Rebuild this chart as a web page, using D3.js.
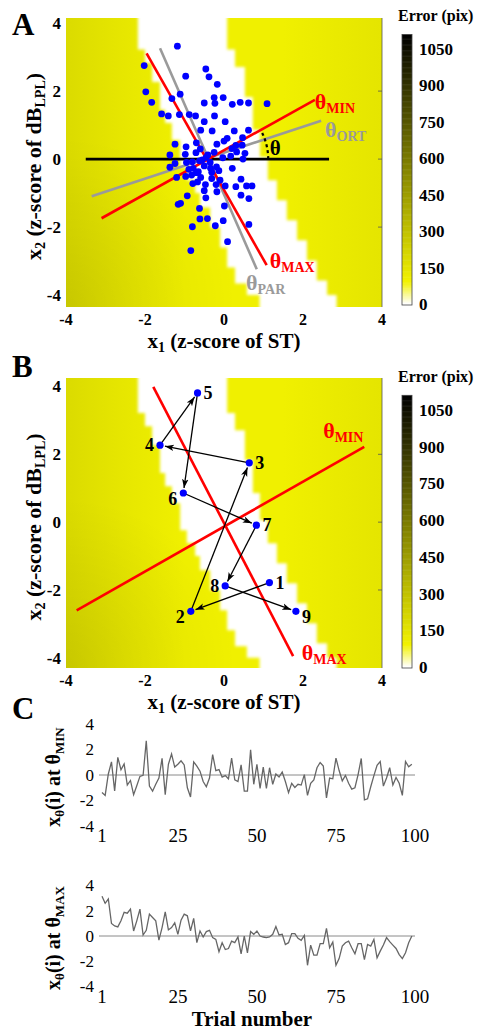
<!DOCTYPE html>
<html>
<head>
<meta charset="utf-8">
<script src="https://cdn.jsdelivr.net/npm/d3@7"></script>
<style>
  body { margin: 0; background: #fff; }
  svg { display: block; font-family: "Liberation Serif", "Times New Roman", serif; }
</style>
</head>
<body>
<div id="chart"></div>
<script>
// ---- panel A: scatter of (x1, x2) z-scores
const scatterX = [-1.18, -2.02, -0.97, -0.46, -0.38, -0.17, -1.98, -1.83, -1.32, -1.11, -0.50, -0.25, -0.02, -0.23, 0.21, 0.41, 0.62, 1.09,
  -1.58, -1.41, -1.13, -0.88, -0.72, -0.24, 0.03, -0.50, -0.59, -0.30, 0.26, 0.62, 0.08, 0.47, -0.18, 0.00, -0.70, -1.24, -0.96, 0.46,
  0.20, -1.37, -0.98, -0.71, -0.41, -0.25, -0.03, 0.17, 0.48, -0.62, -0.80, -0.95, -1.37, -0.50, -0.34, -0.19, -0.78, -0.89, -0.65,
  -0.31, -0.13, -1.20, -0.97, -0.82, -0.59, -0.31, -0.10, 0.21, 0.43, -0.47, -0.20, 0.03, 0.30, 0.57, 0.71, -0.50, -0.18, 0.43, -0.46,
  0.63, -0.93, -1.16, -1.10, -0.62, 0.01, -0.61, -0.42, -0.80, -0.22, -0.02, 0.63, 0.09, -0.84, -0.67, -0.79, -1.24, -0.55, -0.45,
  -0.60, -0.35, -0.70, 0.53, 0.32, 0.30];
const scatterY = [3.32, 2.75, 2.44, 2.65, 2.42, 2.20, 1.98, 1.67, 1.78, 1.91, 1.65, 1.81, 1.81, 1.64, 1.61, 1.67, 1.65, 1.63,
  1.33, 1.27, 1.31, 1.31, 1.27, 1.27, 1.10, 1.10, 0.85, 0.83, 0.83, 0.85, 0.61, 0.63, 0.44, 0.53, 0.48, 0.44, 0.36, 0.41,
  0.31, 0.12, 0.14, 0.19, 0.12, 0.20, 0.04, 0.09, 0.00, -0.05, -0.08, -0.10, -0.24, -0.20, -0.27, -0.23, -0.27, -0.30, -0.37,
  -0.39, -0.34, -0.54, -0.51, -0.47, -0.54, -0.57, -0.62, -0.27, -0.59, -0.75, -0.75, -0.79, -0.81, -0.79, -0.79, -0.93, -0.96, -1.06, -1.14,
  -1.16, -1.08, -1.33, -1.30, -1.45, -1.38, -1.76, -1.75, -1.99, -1.96, -1.81, -1.92, -2.43, -2.69, -0.67, -0.72, -0.13, -0.02, 0.05,
  0.30, -0.10, -0.40, 0.17, 0.21, 0.40];

// reference lines of panel A (endpoints in z-score units)
const linesA = [
  { name: 'ORT', x: [-3.35, 2.46], y: [-1.09, 1.13], color: '#9a9a9a' },
  { name: 'PAR', x: [-1.62, 0.83], y: [3.26, -3.24], color: '#9a9a9a' },
  { name: 'AXIS', x: [-3.50, 2.66], y: [0, 0], color: '#000000' },
  { name: 'MAX', x: [-1.96, 1.08], y: [3.11, -3.12], color: '#ff0000' },
  { name: 'MIN', x: [-3.10, 2.30], y: [-1.74, 1.74], color: '#ff0000' }
];
const labelsA = [
  { sub: 'MIN', x: 2.30, y: 1.47, color: '#ff0000' },
  { sub: 'ORT', x: 2.56, y: 0.65, color: '#9a9a9a' },
  { sub: 'MAX', x: 1.16, y: -3.20, color: '#ff0000' },
  { sub: 'PAR', x: 0.56, y: -3.85, color: '#9a9a9a' }
];

// ---- panel B: trial sequence
const trialIds = [1, 2, 3, 4, 5, 6, 7, 8, 9];
const trialX = [1.15, -0.84, 0.64, -1.62, -0.67, -1.03, 0.82, 0.03, 1.82];
const trialY = [-1.78, -2.63, 1.75, 2.27, 3.81, 0.86, -0.09, -1.88, -2.63];
const trialLabelSide = ['r', 'lb', 'r', 'l', 'r', 'lb', 'r', 'l', 'rb'];
const linesB = [
  { name: 'MAX', x: [-1.79, 1.75], y: [3.99, -3.95], color: '#ff0000' },
  { name: 'MIN', x: [-3.73, 3.55], y: [-2.60, 2.22], color: '#ff0000' }
];
const labelsB = [
  { sub: 'MIN', x: 2.51, y: 2.48, color: '#ff0000' },
  { sub: 'MAX', x: 1.97, y: -4.07, color: '#ff0000' }
];

// ---- error map: zero-error valley (step edges, z-score units) and error level across x1
const bandLeftY = [4.6, 3.22, 2.83, 2.27, 1.45, 1.06, 0.56, -0.24, -0.62, -1.00, -1.42, -2.01, -2.60, -3.19, -3.66, -4.00];
const bandLeftX = [-2.18, -2.00, -1.82, -1.62, -1.49, -1.32, -1.11, -0.94, -0.73, -0.61, -0.35, -0.10, 0.08, 0.28, 0.58, 0.90];
const bandRightY = [4.6, 3.22, 2.71, 1.83, 0.86, 0.06, -0.62, -1.21, -1.80, -2.39, -2.98, -3.57, -4.00];
const bandRightX = [0.08, 0.28, 0.53, 0.73, 0.91, 1.11, 1.34, 1.59, 1.85, 2.10, 2.35, 2.61, 2.85];
const errAtX = [-4, -2.5, -1, 1.5, 4];
const errLevel = [185, 135, 100, 100, 145];

const cbTicks = [0, 150, 300, 450, 600, 750, 900, 1050];
const cbMax = 1110;

// ---- panel C: projections per trial
const projMin = [-1.38, -1.6, 0.08, 1.03, -1.25, 1.38, 0.41, 0.87, -0.79, -0.43, -1.54, -0.84, -0.11, -0.03, 2.68, -0.87, -1.27,
  -0.73, -0.24, 1.3, -1.54, 0.84, 1.65, 0.62, 0.84, 1.11, 0.79, -1.0, -1.73, 1.03, 0.7, 0.3, -0.51, -0.92, -0.24, 1.6, 0.35,
  0.43, -0.16, -0.05, -0.3, 1.33, -0.38, -0.51, 0.79, -1.27, -1.27, 1.98, -0.73, 0.84, -1.06, 0.62, -1.06, 0.57, -0.73, 0.08,
  -0.16, 0.24, -0.51, -1.38, -0.65, -0.98, -0.73, -0.79, 0.03, -1.6, -0.65, -0.38, 0.57, 0.98, 0.7, -1.79, -0.24, -0.3, 1.33,
  0.35, -0.46, -0.03, -0.65, -1.11, -1.0, 0.03, 1.3, -1.95, -1.87, -0.92, -0.05, 0.76, 1.06, -0.87, -0.24, 0.57, -0.79, -0.19,
  -0.65, -1.6, 1.06, 0.65, 0.84];
const projMax = [3.15, 2.59, 2.93, 0.99, 0.8, 0.72, 1.2, 1.87, 1.81, 2.13, 0.4, 1.2, 2.13, 0.08, 0.45, 1.73, 1.47, 1.2, -0.32,
  0.67, 1.92, 0.48, 0.67, 1.04, 0.13, 1.25, 1.73, 1.6, 0.4, 1.39, -0.53, 0.4, -0.08, 0.35, 0.45, -0.13, -0.27, -1.25, -0.53,
  -1.07, -0.99, -0.4, -0.53, -0.08, -1.41, 0, -1.33, 0.35, 0.13, 0.4, 0, -0.08, -0.13, -0.08, 0.13, 0.75, 0.08, 0.13, -0.67,
  -0.53, 0.19, 0.19, -0.19, -0.35, 0.05, -2.32, -0.72, -1.52, -1.52, -0.61, -0.61, 0.61, -0.93, -0.48, -2.32, -1.79, -0.8,
  -0.53, -0.4, -0.93, -1.41, -0.61, -0.61, -1.87, -0.67, -0.8, -0.27, -1.73, -1.2, -0.72, -0.13, -0.45, -0.72, -0.99, -1.47,
  -1.79, -1.33, -0.53, 0];
const trialTicks = [1, 25, 50, 75, 100];
const projTicks = [4, 2, 0, -2, -4];

const width = 497, height = 1032;
const svg = d3.select('#chart').append('svg').attr('width', width).attr('height', height);
const defs = svg.append('defs');

const color = d3.scaleLinear().domain([0, 90, cbMax]).range(['#ffffff', '#f2f200', '#000000']);

defs.append('filter').attr('id', 'soft')
  .append('feGaussianBlur').attr('stdDeviation', 1.6);

defs.append('marker')
  .attr('id', 'arrow')
  .attr('viewBox', '0 -5 10 10')
  .attr('refX', 10).attr('refY', 0)
  .attr('markerWidth', 9).attr('markerHeight', 9)
  .attr('markerUnits', 'userSpaceOnUse')
  .attr('orient', 'auto')
  .append('path').attr('d', 'M0,-3.6L10,0L0,3.6L2.5,0Z').attr('fill', '#000');

function sub(t, main, s, size, dy) {
  t.append('tspan').text(main);
  t.append('tspan').attr('font-size', size).attr('dy', dy).text(s);
}

function thetaLabel(g, px, py, s, fill) {
  const t = g.append('text').attr('x', px).attr('y', py)
    .attr('fill', fill).attr('font-weight', 'bold').attr('font-size', 22);
  t.append('tspan').text('θ');
  t.append('tspan').attr('font-size', 14).attr('dy', 4).text(s);
}

function bandPath(x, y) {
  const pts = [];
  const yBot = -4.6;
  bandLeftY.forEach((yy, i) => {
    const y1 = i < bandLeftY.length - 1 ? bandLeftY[i + 1] : yBot;
    pts.push([x(bandLeftX[i]), y(yy)], [x(bandLeftX[i]), y(y1)]);
  });
  for (let i = bandRightY.length - 1; i >= 0; i--) {
    const y1 = i < bandRightY.length - 1 ? bandRightY[i + 1] : yBot;
    pts.push([x(bandRightX[i]), y(y1)], [x(bandRightX[i]), y(bandRightY[i])]);
  }
  return d3.line()(pts) + 'Z';
}

// error map with axes, ticks and colourbar
function errorPanel(id, top, bottom, yDomain, cb) {
  const x = d3.scaleLinear().domain([-4, 4]).range([66, 382]);
  const y = d3.scaleLinear().domain(yDomain).range([bottom, top]);
  const g = svg.append('g');

  defs.append('clipPath').attr('id', 'clip' + id)
    .append('rect').attr('x', 66).attr('y', top).attr('width', 316).attr('height', bottom - top);

  const grad = defs.append('linearGradient').attr('id', 'err' + id)
    .attr('gradientUnits', 'userSpaceOnUse')
    .attr('x1', x(-4)).attr('x2', x(4)).attr('y1', 0).attr('y2', 0);
  errAtX.forEach((v, i) => {
    grad.append('stop').attr('offset', (x(v) - x(-4)) / (x(4) - x(-4))).attr('stop-color', color(errLevel[i]));
  });
  const shade = defs.append('radialGradient').attr('id', 'shade' + id)
    .attr('gradientUnits', 'userSpaceOnUse')
    .attr('cx', x(-4)).attr('cy', y(yDomain[0])).attr('r', 170);
  shade.append('stop').attr('offset', 0).attr('stop-color', '#000').attr('stop-opacity', 0.09);
  shade.append('stop').attr('offset', 1).attr('stop-color', '#000').attr('stop-opacity', 0);

  const map = g.append('g').attr('clip-path', `url(#clip${id})`);
  map.append('rect').attr('x', 66).attr('y', top).attr('width', 316).attr('height', bottom - top)
    .attr('fill', `url(#err${id})`);
  map.append('rect').attr('x', 66).attr('y', top).attr('width', 316).attr('height', bottom - top)
    .attr('fill', `url(#shade${id})`);
  map.append('path').attr('d', bandPath(x, y)).attr('fill', color(0)).attr('filter', 'url(#soft)');

  // right frame with inward ticks
  g.append('line').attr('x1', 382).attr('x2', 382).attr('y1', top).attr('y2', bottom)
    .attr('stroke', '#555').attr('stroke-width', 0.8);
  g.selectAll('.rt').data([2, 0, -2]).join('line')
    .attr('x1', 378).attr('x2', 382).attr('y1', d => y(d)).attr('y2', d => y(d))
    .attr('stroke', '#555').attr('stroke-width', 0.8);

  g.selectAll('.yt').data([4, 2, 0, -2, -4]).join('text')
    .attr('x', 61).attr('y', d => y(d)).attr('dy', '0.35em')
    .attr('text-anchor', 'end').attr('font-weight', 'bold').attr('font-size', 17)
    .text(d => d);
  g.selectAll('.xt').data([-4, -2, 0, 2, 4]).join('text')
    .attr('x', d => x(d)).attr('y', bottom + 18)
    .attr('text-anchor', 'middle').attr('font-weight', 'bold').attr('font-size', 16)
    .text(d => d);

  const xt = g.append('text').attr('x', 224).attr('y', bottom + 41)
    .attr('text-anchor', 'middle').attr('font-weight', 'bold').attr('font-size', 21);
  sub(xt, 'x', '1', 14, 4);
  xt.append('tspan').attr('dy', -4).text(' (z-score of ST)');

  const yt = g.append('text').attr('transform', `translate(41,${(top + bottom) / 2 + 4}) rotate(-90)`)
    .attr('text-anchor', 'middle').attr('font-weight', 'bold').attr('font-size', 22);
  sub(yt, 'x', '2', 14, 4);
  yt.append('tspan').attr('dy', -4).text(' (z-score of dB');
  yt.append('tspan').attr('font-size', 14).attr('dy', 4).text('LPL');
  yt.append('tspan').attr('dy', -4).text(')');

  // colourbar
  const cy = d3.scaleLinear().domain([0, 1050]).range([cb.zero, cb.top]);
  const bar = g.append('g');
  bar.selectAll('rect').data(d3.range(0, cbMax, 5)).join('rect')
    .attr('x', 402).attr('width', 10)
    .attr('y', d => cy(d + 5)).attr('height', d => cy(d) - cy(d + 5) + 0.5)
    .attr('fill', d => color(d));
  bar.append('rect').attr('x', 402).attr('width', 10).attr('y', cy(cbMax)).attr('height', cy(0) - cy(cbMax) + 1)
    .attr('fill', 'none').attr('stroke', '#444').attr('stroke-width', 0.8);
  bar.selectAll('text').data(cbTicks).join('text')
    .attr('x', 419).attr('y', d => cy(d)).attr('dy', '0.35em')
    .attr('font-weight', 'bold').attr('font-size', 17).text(d => d);
  g.append('text').attr('x', 398).attr('y', cy(cbMax) - 13)
    .attr('font-weight', 'bold').attr('font-size', 16).text('Error (pix)');

  return { g, x, y };
}

// ---- panel A
const A = errorPanel('A', 18, 307, [-4.35, 4.15], { zero: 304, top: 49 });
A.g.selectAll('.ln').data(linesA).join('line')
  .attr('x1', d => A.x(d.x[0])).attr('x2', d => A.x(d.x[1]))
  .attr('y1', d => A.y(d.y[0])).attr('y2', d => A.y(d.y[1]))
  .attr('stroke', d => d.color).attr('stroke-width', 2.6);
A.g.selectAll('.pt').data(scatterX).join('circle')
  .attr('cx', d => A.x(d)).attr('cy', (d, i) => A.y(scatterY[i])).attr('r', 3.4)
  .attr('fill', '#0000ff');
// angle arc between the x1 axis and the theta_MIN line
{
  const m = linesA.find(d => d.name === 'MIN');
  const x0 = m.x[0] + (0 - m.y[0]) * (m.x[1] - m.x[0]) / (m.y[1] - m.y[0]);
  const cx = A.x(x0), cyy = A.y(0);
  const ang = Math.atan2(A.y(m.y[0]) - A.y(m.y[1]), A.x(m.x[1]) - A.x(m.x[0]));
  const p = d3.path();
  const r = 60;
  p.moveTo(cx + r, cyy);
  p.arc(cx, cyy, r, 0, -ang * 0.92, true);
  A.g.append('path').attr('d', p.toString()).attr('fill', 'none')
    .attr('stroke', '#000').attr('stroke-width', 2.2).attr('stroke-dasharray', '3,3');
  A.g.append('text').attr('x', A.x(1.16)).attr('y', A.y(0.12))
    .attr('font-size', 21).attr('font-weight', 'bold').text('θ');
}
labelsA.forEach(d => thetaLabel(A.g, A.x(d.x), A.y(d.y), d.sub, d.color));

// ---- panel B
const B = errorPanel('B', 378, 668, [-4.3, 4.25], { zero: 667, top: 410 });
B.g.selectAll('.ln').data(linesB).join('line')
  .attr('x1', d => B.x(d.x[0])).attr('x2', d => B.x(d.x[1]))
  .attr('y1', d => B.y(d.y[0])).attr('y2', d => B.y(d.y[1]))
  .attr('stroke', d => d.color).attr('stroke-width', 2.6);
const steps = d3.range(trialX.length - 1).map(i => {
  const x1 = B.x(trialX[i]), y1 = B.y(trialY[i]);
  const x2 = B.x(trialX[i + 1]), y2 = B.y(trialY[i + 1]);
  const len = Math.hypot(x2 - x1, y2 - y1);
  const k = (len - 5) / len;
  return { x1, y1, x2: x1 + (x2 - x1) * k, y2: y1 + (y2 - y1) * k };
});
B.g.selectAll('.arr').data(steps).join('line')
  .attr('x1', d => d.x1).attr('y1', d => d.y1).attr('x2', d => d.x2).attr('y2', d => d.y2)
  .attr('stroke', '#000').attr('stroke-width', 1.3).attr('marker-end', 'url(#arrow)');
B.g.selectAll('.pt').data(trialX).join('circle')
  .attr('cx', d => B.x(d)).attr('cy', (d, i) => B.y(trialY[i])).attr('r', 3.6)
  .attr('fill', '#0000ff');
B.g.selectAll('.num').data(trialIds).join('text')
  .attr('x', (d, i) => B.x(trialX[i]) + (trialLabelSide[i][0] === 'l' ? -6 : 6))
  .attr('y', (d, i) => B.y(trialY[i]) + (trialLabelSide[i].length > 1 ? 12 : 6))
  .attr('text-anchor', (d, i) => trialLabelSide[i][0] === 'l' ? 'end' : 'start')
  .attr('font-weight', 'bold').attr('font-size', 18).text(d => d);
labelsB.forEach(d => thetaLabel(B.g, B.x(d.x), B.y(d.y), d.sub, d.color));

// panel letters
[['A', 35], ['B', 377], ['C', 719]].forEach(([t, yy]) => {
  svg.append('text').attr('x', 12).attr('y', yy).attr('font-weight', 'bold').attr('font-size', 31).text(t);
});

// ---- panel C
const xT = d3.scaleLinear().domain([1, 100]).range([102, 415]);
function projPanel(values, y0, y1, s) {
  const y = d3.scaleLinear().domain([-4, 4]).range([y0, y1]);
  const g = svg.append('g');
  g.append('line').attr('x1', xT(1) - 3).attr('x2', xT(100)).attr('y1', y(0)).attr('y2', y(0))
    .attr('stroke', '#8a8a8a').attr('stroke-width', 1);
  g.append('path').datum(values)
    .attr('d', d3.line().x((d, i) => xT(i + 1)).y(d => y(d)))
    .attr('fill', 'none').attr('stroke', '#666').attr('stroke-width', 1.3);
  g.selectAll('.yt').data(projTicks).join('text')
    .attr('x', 94).attr('y', d => y(d)).attr('dy', '0.35em').attr('text-anchor', 'end')
    .attr('font-size', 17).text(d => d);
  g.selectAll('.xt').data(trialTicks).join('text')
    .attr('x', d => xT(d)).attr('y', y0 + 16).attr('text-anchor', 'middle')
    .attr('font-size', 19).text(d => d);
  const t = g.append('text').attr('transform', `translate(60,${(y0 + y1) / 2 + 2}) rotate(-90)`)
    .attr('text-anchor', 'middle').attr('font-weight', 'bold').attr('font-size', 20);
  sub(t, 'x', 'θ', 13, 4);
  t.append('tspan').attr('dy', -4).text('(i) at θ');
  t.append('tspan').attr('font-size', 13).attr('dy', 4).text(s);
}
projPanel(projMin, 826, 724, 'MIN');
projPanel(projMax, 986.5, 885.5, 'MAX');
svg.append('text').attr('x', 252).attr('y', 1026).attr('text-anchor', 'middle')
  .attr('font-weight', 'bold').attr('font-size', 21).text('Trial number');
</script>
</body>
</html>
